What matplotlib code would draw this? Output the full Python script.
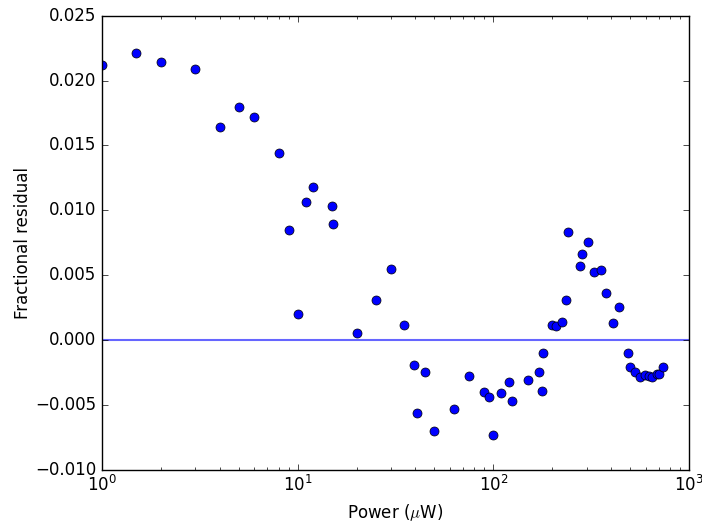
import numpy as np
import matplotlib
matplotlib.use("Agg")
import matplotlib.pyplot as plt

# Power (uW) and fractional residual
power = [1.0, 1.5, 2, 3, 4, 5, 6, 8, 9, 10, 11, 12, 15, 15.2, 20, 25, 30, 35,
         39.5, 40.5, 45, 50, 63, 75, 90, 95, 100, 110, 120, 125, 150, 172,
         177, 180, 200, 210, 225, 236, 241, 276, 283, 304, 326, 353, 376,
         407, 437, 487, 499, 527, 561, 597, 624, 646, 685, 701, 735]
residual = [0.0212, 0.0221, 0.02145, 0.0209, 0.0164, 0.01795, 0.0172, 0.01438,
            0.0085, 0.00203, 0.01065, 0.0118, 0.01034, 0.00895, 0.00056,
            0.00311, 0.0055, 0.00113, -0.00193, -0.00566, -0.0025, -0.00705,
            -0.00536, -0.00281, -0.00404, -0.00443, -0.00733, -0.00412,
            -0.00324, -0.00471, -0.00309, -0.00245, -0.00391, -0.00098,
            0.00113, 0.00108, 0.00141, 0.00311, 0.00836, 0.00573, 0.00664,
            0.00756, 0.00525, 0.00537, 0.0036, 0.00128, 0.00252, -0.00098,
            -0.00206, -0.00245, -0.00289, -0.0027, -0.00281, -0.00289,
            -0.00265, -0.00265, -0.00206]

plt.style.use("classic")
plt.rcParams["figure.facecolor"] = "white"
plt.rcParams["savefig.facecolor"] = "white"

fig = plt.figure(figsize=(7.02, 5.23), dpi=100)
ax = fig.add_axes([0.1453, 0.102, 0.8362, 0.868])

ax.semilogx(power, residual, "bo", markersize=6.5)
ax.axhline(0, color="b", alpha=0.6, linewidth=1.5)

ax.set_xlim(1, 1000)
ax.set_ylim(-0.010, 0.025)
ax.set_xlabel(r"Power ($\mu$W)")
ax.set_ylabel("Fractional residual", labelpad=2)

fig.savefig("out.png", dpi=100)
